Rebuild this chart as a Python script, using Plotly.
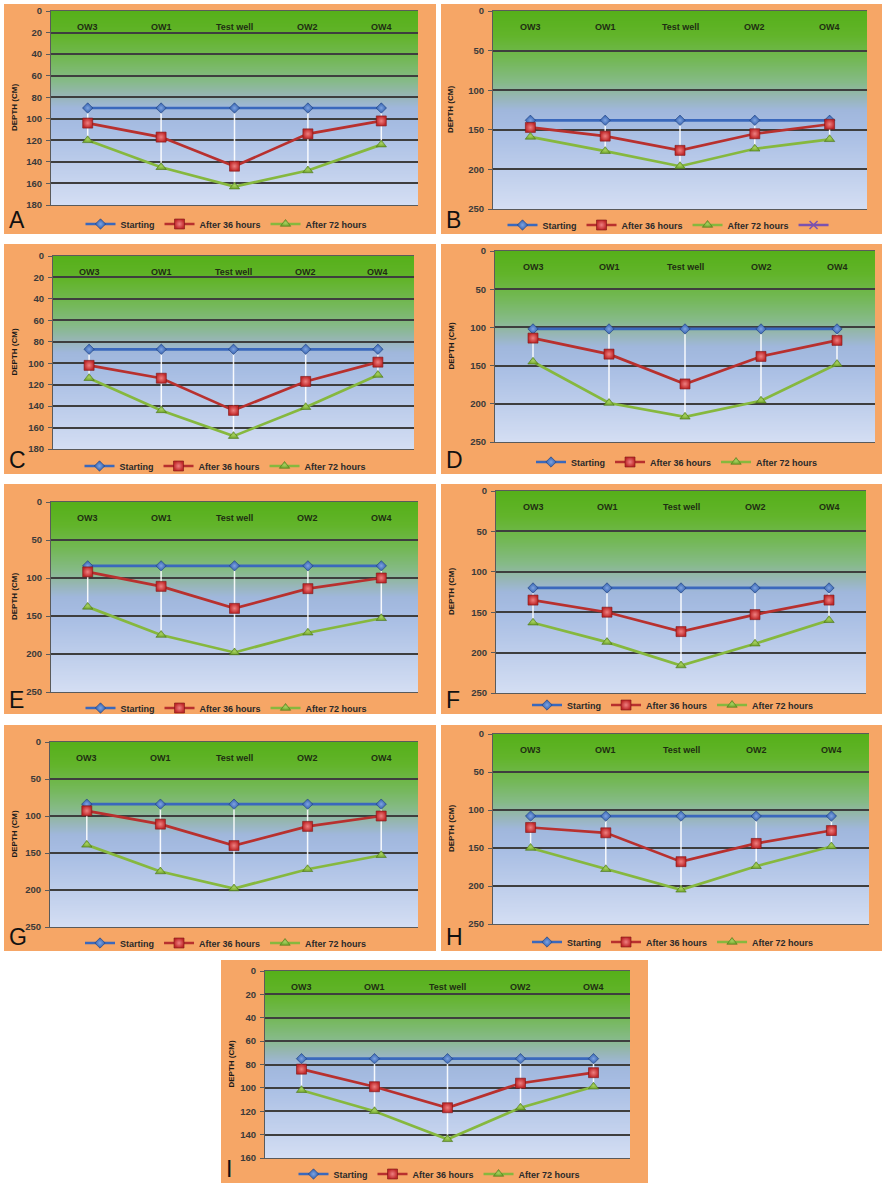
import base64
import struct
import zlib
import plotly.graph_objects as go

# ---------------- data ----------------
categories = ["OW3", "OW1", "Test well", "OW2", "OW4"]
series_names = ["Starting", "After 36 hours", "After 72 hours"]
panel_letters = ["A", "B", "C", "D", "E", "F", "G", "H", "I"]
y_max = [180, 250, 180, 250, 250, 250, 250, 250, 160]
y_dtick = [20, 50, 20, 50, 50, 50, 50, 50, 20]

a_start = [90, 90, 90, 90, 90]
a_36h = [104, 117, 144, 114, 102]
a_72h = [120, 145, 163, 148, 124]

b_start = [138, 138, 138, 138, 138]
b_36h = [147, 158, 176, 155, 143]
b_72h = [159, 177, 196, 174, 162]

c_start = [87, 87, 87, 87, 87]
c_36h = [102, 114, 144, 117, 99]
c_72h = [114, 144, 168, 141, 111]

d_start = [102, 102, 102, 102, 102]
d_36h = [114, 135, 174, 138, 117]
d_72h = [145, 199, 217, 196, 148]

e_start = [84, 84, 84, 84, 84]
e_36h = [92, 111, 140, 114, 100]
e_72h = [138, 175, 198, 172, 153]

f_start = [120, 120, 120, 120, 120]
f_36h = [135, 150, 174, 153, 135]
f_72h = [163, 187, 216, 189, 160]

g_start = [84, 84, 84, 84, 84]
g_36h = [93, 111, 140, 114, 100]
g_72h = [139, 175, 198, 172, 153]

h_start = [108, 108, 108, 108, 108]
h_36h = [123, 130, 168, 144, 127]
h_72h = [150, 178, 205, 174, 148]

i_start = [75, 75, 75, 75, 75]
i_36h = [84, 99, 117, 96, 87]
i_72h = [102, 120, 144, 117, 99]

panel_series = [
    (a_start, a_36h, a_72h),
    (b_start, b_36h, b_72h),
    (c_start, c_36h, c_72h),
    (d_start, d_36h, d_72h),
    (e_start, e_36h, e_72h),
    (f_start, f_36h, f_72h),
    (g_start, g_36h, g_72h),
    (h_start, h_36h, h_72h),
    (i_start, i_36h, i_72h),
]

# ---------------- geometry (pixels) ----------------
W, H = 885, 1185
boxes = [
    (4, 4, 436, 234), (441, 4, 882, 234),
    (4, 244, 436, 474), (441, 244, 882, 474),
    (4, 484, 436, 714), (441, 484, 882, 714),
    (4, 725, 436, 951), (441, 725, 882, 951),
    (221, 960, 648, 1183),
]
plots = [
    (51, 11, 418, 205), (493, 11, 867, 209),
    (53, 256, 414, 449), (495, 251, 875, 442),
    (51, 502, 418, 692), (496, 491, 866, 693),
    (50, 742, 418, 927), (493, 734, 869, 924),
    (265, 971, 630, 1158),
]
legend_y = [224, 225, 466, 462, 708, 705, 943, 942, 1174]


def px(x):
    return x / W


def py(y):
    return 1 - y / H


def png_uri(rows):
    w = len(rows[0])
    h = len(rows)
    raw = b"".join(b"\x00" + bytes([c for p in row for c in p]) for row in rows)

    def chunk(t, d):
        return struct.pack(">I", len(d)) + t + d + struct.pack(">I", zlib.crc32(t + d) & 0xFFFFFFFF)

    png = (b"\x89PNG\r\n\x1a\n"
           + chunk(b"IHDR", struct.pack(">IIBBBBB", w, h, 8, 2, 0, 0, 0))
           + chunk(b"IDAT", zlib.compress(raw))
           + chunk(b"IEND", b""))
    return "data:image/png;base64," + base64.b64encode(png).decode()


stops = [
    (0.00, (86, 176, 26)),
    (0.12, (98, 180, 42)),
    (0.25, (116, 184, 88)),
    (0.36, (134, 186, 136)),
    (0.43, (150, 182, 178)),
    (0.50, (160, 183, 220)),
    (0.60, (167, 189, 227)),
    (1.00, (212, 222, 243)),
]


def grad_color(t):
    for (t0, c0), (t1, c1) in zip(stops[:-1], stops[1:]):
        if t0 <= t <= t1:
            f = (t - t0) / (t1 - t0)
            return tuple(int(round(a + (b - a) * f)) for a, b in zip(c0, c1))
    return stops[-1][1]


NG = 256
grad_uri = png_uri([[grad_color(k / (NG - 1))] * 2 for k in range(NG)])
orange_uri = png_uri([[(246, 166, 102)] * 2] * 2)

fig = go.Figure()
images = []
annotations = []
layout_axes = {}

colors = ["#3A68BC", "#B8302E", "#86B83E"]
mcolors = ["#2F5DAE", "#C0282A", "#74A82E"]
mgrad = ["#7FA4E0", "#EE8080", "#A6D060"]
mline = ["#1F3F7A", "#7A1414", "#4A7418"]
symbols = ["diamond", "square", "triangle-up"]
msizes = [8, 10, 9]
FONT = "Liberation Sans, Arial, sans-serif"

for k in range(9):
    bx0, by0, bx1, by1 = boxes[k]
    images.append(dict(source=orange_uri, xref="paper", yref="paper",
                       x=px(bx0), y=py(by0), sizex=(bx1 - bx0) / W, sizey=(by1 - by0) / H,
                       xanchor="left", yanchor="top", sizing="stretch", layer="below"))

for k in range(9):
    bx0, by0, bx1, by1 = boxes[k]
    x0, y0, x1, y1 = plots[k]
    images.append(dict(source=grad_uri, xref="paper", yref="paper",
                       x=px(x0), y=py(y0), sizex=(x1 - x0) / W, sizey=(y1 - y0) / H,
                       xanchor="left", yanchor="top", sizing="stretch", layer="below"))

    sfx = "" if k == 0 else str(k + 1)
    xa, ya = "x" + sfx, "y" + sfx
    lg = "legend" + sfx
    s_start, s36, s72 = panel_series[k]

    # white high-low drop lines
    dx, dy = [], []
    for i, c in enumerate(categories):
        vals = [s_start[i], s36[i], s72[i]]
        dx += [c, c, None]
        dy += [min(vals), max(vals), None]
    fig.add_trace(go.Scatter(x=dx, y=dy, mode="lines", xaxis=xa, yaxis=ya,
                             line=dict(color="rgba(255,255,255,0.9)", width=1.5),
                             showlegend=False, hoverinfo="skip"))

    for j, vals in enumerate(panel_series[k]):
        fig.add_trace(go.Scatter(
            x=categories, y=vals, name=series_names[j], mode="lines+markers",
            xaxis=xa, yaxis=ya, legend=lg, cliponaxis=False,
            line=dict(color=colors[j], width=2.7),
            marker=dict(symbol=symbols[j], size=msizes[j], color=mcolors[j],
                        gradient=dict(type="radial", color=mgrad[j]),
                        line=dict(color=mline[j], width=0.6)),
        ))
    if k == 1:
        fig.add_trace(go.Scatter(x=[None], y=[None], name=" ", mode="lines+markers",
                                 xaxis=xa, yaxis=ya, legend=lg,
                                 line=dict(color="#7B52B0", width=2.5),
                                 marker=dict(symbol="x-thin", size=8,
                                             line=dict(color="#7B52B0", width=1.5))))

    layout_axes["xaxis" + sfx] = dict(
        domain=[px(x0), px(x1)], anchor=ya, type="category", range=[-0.5, 4.5],
        side="top", showticklabels=False, ticks="",
        showgrid=False, showline=True, mirror=True, linecolor="#5a5a5a", linewidth=1,
        fixedrange=True,
    )
    layout_axes["yaxis" + sfx] = dict(
        domain=[py(y1), py(y0)], anchor=xa, range=[y_max[k], 0], tick0=0, dtick=y_dtick[k],
        showgrid=True, gridcolor="#3e3e3e", gridwidth=1.5, zeroline=False,
        showline=True, linecolor="#5a5a5a", linewidth=1,
        ticks="outside", ticklen=4, tickcolor="#5a5a5a", ticklabelstandoff=2,
        tickfont=dict(family=FONT, size=9.5, color="#3a3a3a", weight="bold"),
        fixedrange=True,
    )
    layout_axes[lg] = dict(
        orientation="h", x=px((x0 + x1) / 2 - 8), y=py(legend_y[k]),
        xanchor="center", yanchor="middle", bgcolor="rgba(0,0,0,0)",
        font=dict(family=FONT, size=9, color="#2a2a2a", weight="bold"),
        itemwidth=30, tracegroupgap=0,
    )

    # category labels inside the top of the plot area
    for c in categories:
        annotations.append(dict(
            text=c, xref=xa, yref=ya + " domain", x=c, y=1, yshift=-16,
            xanchor="center", yanchor="middle", showarrow=False,
            font=dict(family=FONT, size=9, color="#1E2E12", weight="bold"),
        ))

    # y-axis title
    annotations.append(dict(
        text="DEPTH (CM)", textangle=-90, xref="paper", yref="paper",
        x=px(bx0 + 10), y=py((y0 + y1) / 2),
        xanchor="center", yanchor="middle", showarrow=False,
        font=dict(family=FONT, size=8, color="#1a1a1a", weight="bold"),
    ))
    # panel letter
    annotations.append(dict(
        text=panel_letters[k], xref="paper", yref="paper",
        x=px(bx0 + 3), y=py(by1 + 1), xanchor="left", yanchor="bottom",
        showarrow=False,
        font=dict(family=FONT, size=23, color="#111111"),
    ))

fig.update_layout(
    width=W, height=H, margin=dict(l=0, r=0, t=0, b=0, autoexpand=False),
    paper_bgcolor="white", plot_bgcolor="rgba(0,0,0,0)",
    images=images, annotations=annotations, **layout_axes,
)

fig.write_html(
    "out.html",
    config={"displayModeBar": False},
    post_script="document.body.style.margin='0';document.body.style.padding='0';document.body.style.overflow='hidden';",
)
